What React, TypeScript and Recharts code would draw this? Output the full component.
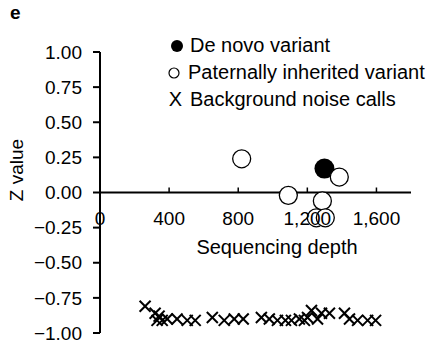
import React from 'react';
import { ScatterChart, Scatter, XAxis, YAxis, ReferenceLine, Legend } from 'recharts';

// de novo variant
const deNovoDepth = [1299];
const deNovoZ = [0.17];

// paternally inherited variants
const paternalDepth = [820, 1385, 1090, 1287, 1252, 1304];
const paternalZ = [0.24, 0.11, -0.02, -0.06, -0.18, -0.18];

// background noise calls
const noiseDepth = [261, 319, 330, 342, 360, 389, 446, 505, 551, 650, 719, 777, 829, 934, 980, 1027, 1073, 1108, 1154, 1183, 1201, 1224, 1259, 1282, 1328, 1415, 1444, 1491, 1549, 1595];
const noiseZ = [-0.81, -0.86, -0.91, -0.88, -0.91, -0.9, -0.9, -0.91, -0.91, -0.89, -0.91, -0.9, -0.9, -0.89, -0.9, -0.91, -0.91, -0.91, -0.9, -0.91, -0.89, -0.84, -0.9, -0.86, -0.86, -0.86, -0.9, -0.91, -0.91, -0.91];

const xTicks = [0, 400, 800, 1200, 1600];
const yTicks = [-1, -0.75, -0.5, -0.25, 0, 0.25, 0.5, 0.75, 1];

const deNovo = deNovoDepth.map((d, i) => ({ depth: d, z: deNovoZ[i] }));
const paternal = paternalDepth.map((d, i) => ({ depth: d, z: paternalZ[i] }));
const noise = noiseDepth.map((d, i) => ({ depth: d, z: noiseZ[i] }));

const W = 444;
const H = 355;
const TOP = 52;
const BOTTOM = 22;
const PLOT_H = H - TOP - BOTTOM;
const FONT = '"Liberation Sans", Arial, sans-serif';

const fmtY = (v: number) => (v < 0 ? '\u2212' + Math.abs(v).toFixed(2) : v.toFixed(2));
const fmtX = (v: number) => v.toLocaleString('en-US');

// x axis crosses at z = 0, so ticks are shifted up to the middle of the plot
const XTick = (props: any) => {
  const { x, y, payload } = props;
  const y0 = y - PLOT_H / 2;
  const isZero = payload.value === 0;
  return (
    <g>
      <line x1={x} x2={x} y1={isZero ? y0 : y0 - 5} y2={isZero ? y0 + 6 : y0} stroke="#000" strokeWidth={1.5} />
      <text x={x} y={y0 + 32} textAnchor="middle" fontSize={19} fill="#000" fontFamily={FONT}>
        {fmtX(payload.value)}
      </text>
    </g>
  );
};

const OpenCircle = (props: any) => (
  <circle cx={props.cx} cy={props.cy} r={9} fill="#fff" stroke="#000" strokeWidth={1.3} />
);

const FilledCircle = (props: any) => (
  <circle cx={props.cx} cy={props.cy} r={10} fill="#000" />
);

const Cross = (props: any) => {
  const { cx, cy } = props;
  const s = 5.5;
  return (
    <g stroke="#000" strokeWidth={2}>
      <line x1={cx - s} y1={cy - s} x2={cx + s} y2={cy + s} />
      <line x1={cx - s} y1={cy + s} x2={cx + s} y2={cy - s} />
    </g>
  );
};

const LegendBox = () => {
  const row: React.CSSProperties = { height: 27, display: 'flex', alignItems: 'center', fontSize: 20, color: '#000' };
  return (
    <div style={{ fontFamily: FONT }}>
      <div style={row}>
        <svg width={28} height={20}><circle cx={17} cy={10} r={6} fill="#000" /></svg>
        <span style={{ marginLeft: 2 }}>De novo variant</span>
      </div>
      <div style={row}>
        <svg width={28} height={20}><circle cx={14} cy={10} r={5} fill="#fff" stroke="#000" strokeWidth={1.2} /></svg>
        <span>Paternally inherited variant</span>
      </div>
      <div style={row}>
        <span style={{ width: 22, textAlign: 'right', paddingRight: 0 }}>X</span>
        <span style={{ marginLeft: 8 }}>Background noise calls</span>
      </div>
    </div>
  );
};

export default function App() {
  return (
    <div style={{ position: 'absolute', left: 0, top: 0, width: W, height: H, background: '#fff', fontFamily: FONT }}>
      <div style={{ position: 'absolute', left: 10, top: 2, fontSize: 19, fontWeight: 'bold' }}>e</div>
      <ScatterChart width={W} height={H} margin={{ top: TOP, right: 33, bottom: BOTTOM - 1, left: 0 }}>
        <XAxis
          type="number"
          dataKey="depth"
          domain={[0, 1800]}
          ticks={xTicks}
          axisLine={false}
          tickLine={false}
          tickSize={0}
          tickMargin={0}
          height={1}
          tick={XTick}
          interval={0}
        />
        <YAxis
          type="number"
          dataKey="z"
          domain={[-1, 1]}
          ticks={yTicks}
          width={100}
          tickFormatter={fmtY}
          axisLine={{ stroke: '#000', strokeWidth: 2 }}
          tickLine={{ stroke: '#000', strokeWidth: 2 }}
          tickSize={7}
          tickMargin={11}
          tick={{ fill: '#000', fontSize: 19, fontFamily: FONT }}
          interval={0}
          label={{
            content: () => (
              <text transform="rotate(-90 23 170)" x={23} y={170} textAnchor="middle" fontSize={19} fill="#000" fontFamily={FONT}>
                Z value
              </text>
            ),
          }}
        />
        <ReferenceLine y={0} stroke="#000" strokeWidth={2} />
        <Scatter name="De novo variant" data={deNovo} shape={FilledCircle} isAnimationActive={false} />
        <Scatter name="Paternally inherited variant" data={paternal} shape={OpenCircle} isAnimationActive={false} />
        <Scatter name="Background noise calls" data={noise} shape={Cross} isAnimationActive={false} />
        <Legend
          layout="horizontal"
          verticalAlign="middle"
          align="center"
          content={LegendBox}
          wrapperStyle={{ position: 'absolute', top: 32, left: 160, width: 284 }}
        />
      </ScatterChart>
      <div style={{ position: 'absolute', left: 0, top: 236, width: W, textAlign: 'center', paddingLeft: 110, boxSizing: 'border-box', fontSize: 20 }}>
        Sequencing depth
      </div>
    </div>
  );
}
